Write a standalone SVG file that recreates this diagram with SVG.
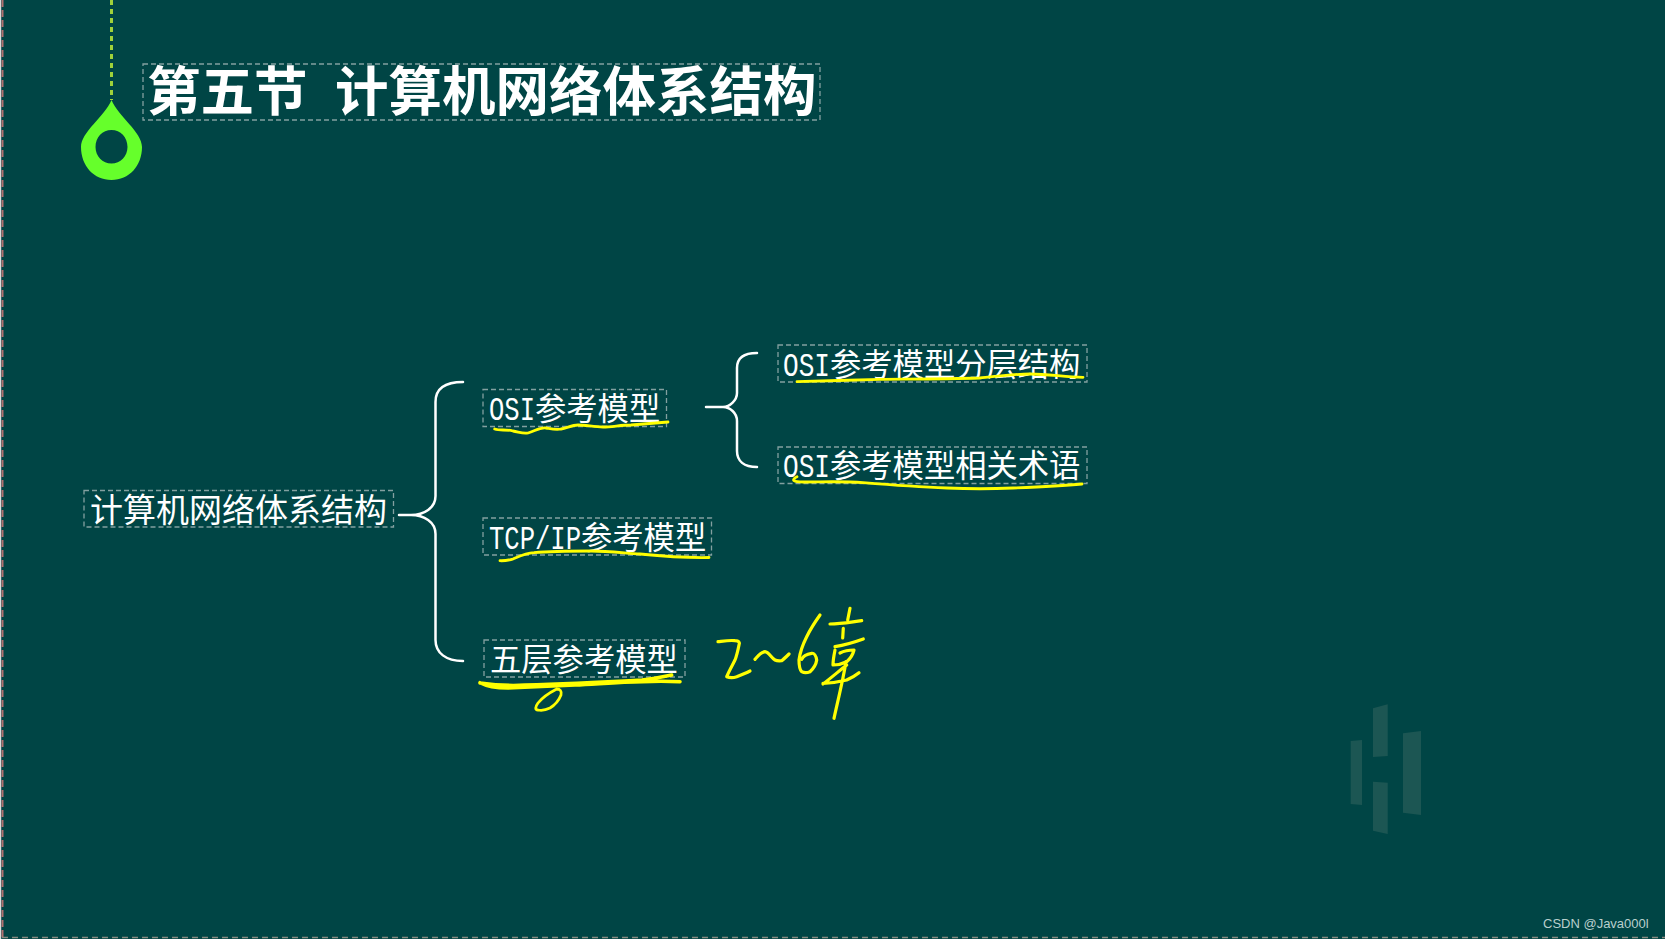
<svg xmlns="http://www.w3.org/2000/svg" width="1665" height="939" viewBox="0 0 1665 939">
<style>
.box{fill:none;stroke:#83a0a0;stroke-width:1.3;stroke-dasharray:5 3}
.t{fill:#fff;font-family:"Noto Sans CJK SC","Noto Sans",sans-serif;font-size:31.300px}
.r{font-size:33px}
.l{font-family:"Liberation Mono",monospace;font-size:34px}
.brace{fill:none;stroke:#fff;stroke-width:2.5;stroke-linecap:round}
.ink{fill:none;stroke:#ffff00;stroke-width:2.8;stroke-linecap:round;stroke-linejoin:round}
.wm{fill:#1c5653}
</style>
<rect width="1665" height="939" fill="#004545"/>
<rect x="0" y="0" width="1.2" height="939" fill="#d8dcdc"/>
<path d="M2.500 0V937" fill="none" stroke="#b07070" stroke-width="2" stroke-dasharray="7 3"/>
<path d="M2 937.500H1665" fill="none" stroke="#8a8a80" stroke-width="1.3" stroke-dasharray="6 4"/>
<g id="watermark">
<polygon class="wm" points="1350.7,741 1362,740 1362,805 1350.7,804"/>
<polygon class="wm" points="1373,708.3 1387.7,704.3 1387.7,756 1373,757"/>
<polygon class="wm" points="1373,781.7 1387.7,782.7 1387.7,834 1373,830.7"/>
<polygon class="wm" points="1403,733.3 1421,731 1421,815 1403,812.7"/>
</g>
<g id="pin">
<line x1="111.500" y1="0" x2="111.500" y2="100" stroke="#9fd13a" stroke-width="3" stroke-dasharray="5 4"/>
<path fill-rule="evenodd" fill="#66ff2b" d="M111.500 100C118 116 142 132 142 147C142 166 129 180 111.500 180C94 180 81 166 81 147C81 132 105 116 111.500 100ZM111.500 130C102.500 130 95.500 137 95.500 147C95.500 156 102.500 163.500 111.500 163.500C120.500 163.500 127.500 156 127.500 147C127.500 137 120.500 130 111.500 130Z"/>
</g>
<g id="title">
<rect class="box" x="143" y="64" width="677" height="56"/>
<text y="111" fill="#fff" font-family="'Noto Sans CJK SC',sans-serif" font-weight="700" font-size="53.500"><tspan x="147">第五节</tspan><tspan x="335">计算机网络体系结构</tspan></text>
</g>
<g id="node-root">
<rect class="box" x="84" y="490.500" width="309.500" height="36.500"/>
<text class="t r" x="90" y="521.500">计算机网络体系结构</text>
</g>
<g id="node-osi">
<rect class="box" x="483" y="389.500" width="183.500" height="37"/>
<text class="t" x="489" y="420"><tspan class="l" textLength="46" lengthAdjust="spacingAndGlyphs">OSI</tspan>参考模型</text>
</g>
<g id="node-tcp">
<rect class="box" x="483" y="518" width="228.500" height="37"/>
<text class="t" x="489" y="549"><tspan class="l" textLength="92" lengthAdjust="spacingAndGlyphs">TCP/IP</tspan>参考模型</text>
</g>
<g id="node-five">
<rect class="box" x="484" y="640" width="201" height="37"/>
<text class="t" x="490" y="671">五层参考模型</text>
</g>
<g id="node-layers">
<rect class="box" x="778" y="345" width="309" height="37"/>
<text class="t" x="783" y="376"><tspan class="l" textLength="47" lengthAdjust="spacingAndGlyphs">OSI</tspan>参考模型分层结构</text>
</g>
<g id="node-terms">
<rect class="box" x="778" y="447" width="309" height="36.500"/>
<text class="t" x="783" y="477"><tspan class="l" textLength="47" lengthAdjust="spacingAndGlyphs">OSI</tspan>参考模型相关术语</text>
</g>
<g id="connectors">
<path class="brace" d="M463 382C446 382 435.500 388 435.500 402V496C435.500 508 424 515 411 515M399 515H411C424 515 435.500 522 435.500 534V640C435.500 653 446 661 463 661"/>
<path class="brace" d="M757 353C744 353 737 358 737 368V393C737 400 730 407 723 407M706 407H723C730 407 737 413 737 421V451C737 461 744 467 757 467"/>
</g>
<g id="ink">
<path class="ink" d="M494.700 429C500 431 506 429 513 431C519 432 523 434 528 433C535 431 540 427 546 428C552 429 556 430 561 429C567 428 572 425 578 425C586 425 594 427 603 427C612 427 621 425 631 425C644 424 656 423 668 422"/>
<path class="ink" d="M500 560.700C506 561 509 560 513 559C520 556 526 553 534 552.700C552 551 572 551 591 551C608 551 624 553 640 554C660 556 685 558 709 557.500"/>
<path class="ink" d="M797 381.700C825 381 852 380 880 379.300C913 379 947 379 980 378C998 376 1014 374 1030 374C1048 374 1065 377 1083 377.300"/>
<path class="ink" d="M797 476.700C794 478 793 480 794 480.700C796 482 799 482 803 482C823 482 843 481 863 482.700C891 485 919 487 947 488C969 489 991 489 1013 488C1036 487 1059 486 1082 484"/>
<path class="ink" style="stroke-width:3.500" d="M480 682.700C488 687 498 688 508 688C530 687 552 686 575 685C597 684 620 682 642 681.700C655 681 667 681 680 681.700M480 683C495 685 510 686 525 685C565 684 605 682 642 680C652 679 662 677 671.700 675"/>
<path class="ink" d="M556.700 689C549 693 542 698 538 703C535 707 535 710 538 710C543 711 546 710 550 708C555 705 559 700 561 695C562 691 560 689 556.700 689"/>
<path class="ink" style="stroke-width:3.200" d="M718 641.700C724 641 730 640 735 640.700C739 641 740 642 739 645C738 650 737 655 735 660C732 666 729 671 726.700 676.700C730 678 733 678 736.700 676.700C741 675 746 673 750 671"/>
<path class="ink" style="stroke-width:3.200" d="M755 659.300C758 656 761 652 765 651.700C769 652 771 658 775 660C777 661 779 661 781.700 660.700C784 659 787 656 789 654"/>
<path class="ink" style="stroke-width:3.200" d="M820 615C815 622 810 630 806.700 636.700C803 644 800 652 799 660C799 665 800 670 801.700 671.700C804 673 807 673 810 671.700C813 669 816 665 816.700 660C816 656 814 653 811.700 653.300C807 654 803 656 801.700 659.300"/>
<path class="ink" style="stroke-width:3.200" d="M850 608.300L847.700 620M830 624C841 624 851 622 861.700 620.700M843.300 628.300L842.700 638M835 646.700C845 645 855 642 863.300 639M835 650C834 655 833 660 833 665C838 665 842 664 846.700 661.700C850 659 853 654 854 650C849 650 844 651 840 653M823 684C831 678 839 671 846.700 665M823 683.300C831 683 839 682 846.700 680C851 678 855 676 859 672.700M846 661.700C843 680 838 700 834 718.300"/>
</g>
<text id="credit" x="1543" y="928" fill="#b9cfcd" font-family="'Liberation Sans',sans-serif" font-size="13">CSDN @Java000l</text>
</svg>
